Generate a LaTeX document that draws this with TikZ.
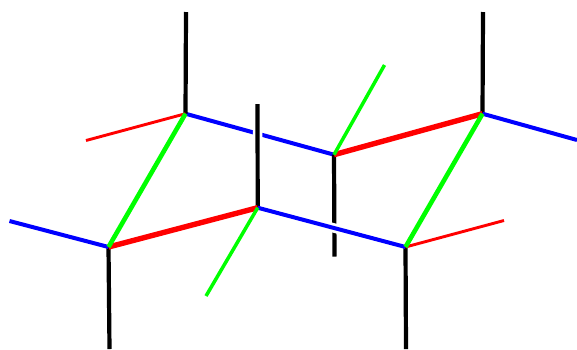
\documentclass[tikz,border=0pt]{standalone}
\definecolor{pblue}{RGB}{0,0,255}
\definecolor{pred}{RGB}{255,0,0}
\definecolor{pgreen}{RGB}{0,255,0}
\tikzset{
  blackbond/.style={draw=black,line width=4.2pt},
  bluebond/.style={draw=pblue,line width=4pt},
  redthick/.style={draw=pred,line width=5.4pt},
  redthin/.style={draw=pred,line width=2.9pt},
  greenthick/.style={draw=pgreen,line width=4.6pt},
  greenthin/.style={draw=pgreen,line width=3.5pt},
  halo/.style={draw=white,line width=9.5pt}
}
\begin{document}
\begin{tikzpicture}[x=1pt,y=-1pt]
\useasboundingbox (0,0) rectangle (577,349);
\coordinate (A) at (185.5,113.7);
\coordinate (B) at (108.5,247);
\coordinate (C) at (334,154.7);
\coordinate (D) at (482.5,113.7);
\coordinate (E) at (257.7,207.7);
\coordinate (F) at (405.5,247);
\coordinate (Atop) at (186,12);
\coordinate (Ared) at (86,140.5);
\coordinate (Bblue) at (9.5,221);
\coordinate (Bdown) at (109.5,349);
\coordinate (Cgreen) at (384.5,65);
\coordinate (Cdown) at (334.5,256.5);
\coordinate (Dtop) at (483,12);
\coordinate (Dblue) at (577,140);
\coordinate (Eup) at (257.5,104);
\coordinate (Egreen) at (206,296);
\coordinate (Fred) at (504,220.5);
\coordinate (Fdown) at (406,349);
% back layer
\draw[bluebond] (A) -- (C);
\draw[blackbond] (C) -- (Cdown);
% crossing gaps
\begin{scope}
\clip (249,120) rectangle (266,146);
\draw[halo] (E) -- (Eup);
\end{scope}
\begin{scope}
\clip (320,222.5) rectangle (348,233);
\draw[halo] (E) -- (F);
\end{scope}
% front layer
\draw[blackbond] (A) -- (Atop);
\draw[blackbond] (B) -- (Bdown);
\draw[blackbond] (D) -- (Dtop);
\draw[blackbond] (F) -- (Fdown);
\draw[blackbond] (E) -- (Eup);
\draw[bluebond] (B) -- (Bblue);
\draw[bluebond] (D) -- (Dblue);
\draw[bluebond] (E) -- (F);
\draw[redthin] (A) -- (Ared);
\draw[redthin] (F) -- (Fred);
\draw[redthick] (B) -- (E);
\draw[redthick] (C) -- (D);
\draw[greenthick] (A) -- (B);
\draw[greenthick] (D) -- (F);
\draw[greenthin] (C) -- (Cgreen);
\draw[greenthin] (E) -- (Egreen);
\end{tikzpicture}
\end{document}
